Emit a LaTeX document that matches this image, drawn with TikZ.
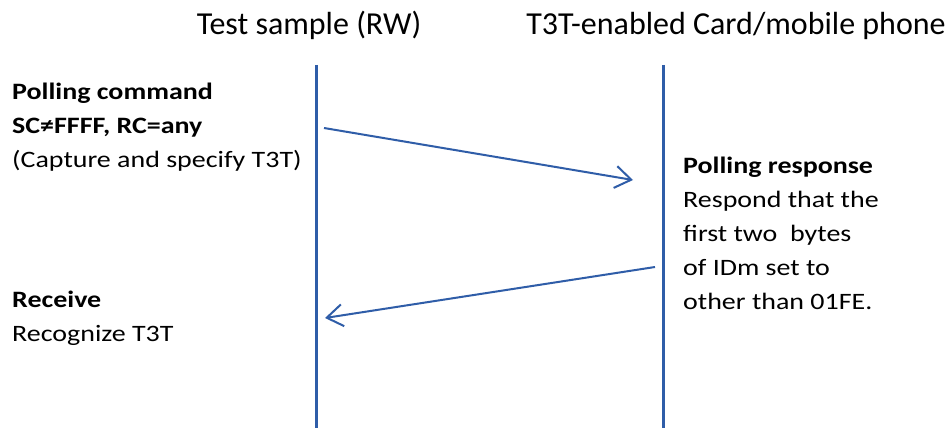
\documentclass[tikz,border=0pt]{standalone}
\usepackage{fontspec}
\setmainfont{Carlito}
\newfontfamily\bodyfont{Carlito}[FakeStretch=1.19]
\usetikzlibrary{arrows.meta}
\definecolor{lineblue}{HTML}{2F5DA8}
\begin{document}
\begin{tikzpicture}[x=1pt,y=-1pt,
  lifeline/.style={draw=lineblue,line width=3pt},
  msg/.style={draw=lineblue,line width=2pt,-{Straight Barb[length=16pt,width=22pt,line width=2pt]}},
  title/.style={font=\fontsize{32}{38}\selectfont,anchor=base,inner sep=0pt},
  label/.style={font=\bodyfont\fontsize{23.5}{34}\selectfont,align=left,anchor=north west,inner sep=0pt}]
\useasboundingbox (0,0) rectangle (950,428);
\fill[white] (0,0) rectangle (950,428);
% titles
\node[title] (t1) at (309,35) {Test sample (RW)};
\node[title] (t2) at (736,35) {T3T-enabled Card/mobile phone};
% lifelines
\coordinate (l1top) at (316,65);
\coordinate (l1bot) at (316,428);
\coordinate (l2top) at (663,65);
\coordinate (l2bot) at (663,428);
\draw[lifeline] (l1top) -- (l1bot);
\draw[lifeline] (l2top) -- (l2bot);
% messages
\coordinate (m1s) at (324,128);
\coordinate (m1e) at (633,180);
\coordinate (m2s) at (655,267);
\coordinate (m2e) at (325,318);
\draw[msg] (m1s) -- (m1e);
\draw[msg] (m2s) -- (m2e);
% labels
\node[label] (cmd) at (12,83) {\textbf{Polling command}\\\textbf{SC≠FFFF, RC=any}\\(Capture and specify T3T)};
\node[label] (resp) at (683,157) {\textbf{Polling response}\\Respond that the\\first two\ \ bytes\\of IDm set to\\other than 01FE.};
\node[label] (recv) at (12,291) {\textbf{Receive}\\Recognize T3T};
\end{tikzpicture}
\end{document}
